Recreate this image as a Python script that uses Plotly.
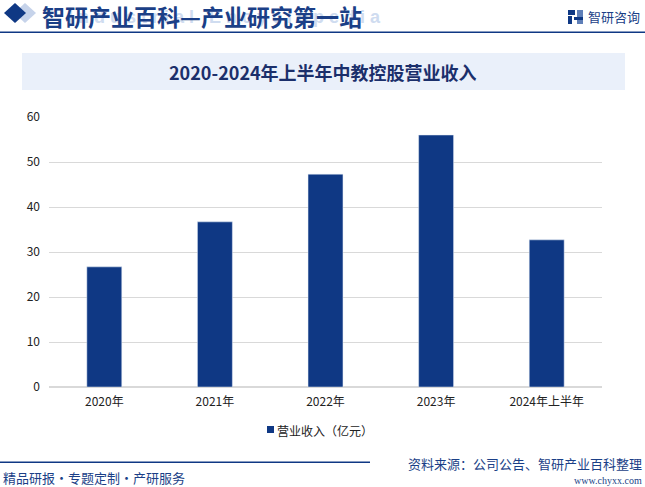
import plotly.graph_objects as go

# Data
categories = ["2020年", "2021年", "2022年", "2023年", "2024年上半年"]
revenue = [26.7, 36.7, 47.3, 56.0, 32.7]
y_ticks = [0, 10, 20, 30, 40, 50, 60]
series_name = "营业收入（亿元）"

NAVY = "#0f3884"
CJK = "Noto Sans CJK SC"

# plot area in pixels
L, R, T, B = 49, 43, 117, 100
PW, PH = 645 - L - R, 487 - T - B


def fx(x):
    return (x - L) / PW


def fy(y):
    return (487 - B - y) / PH


fig = go.Figure()

fig.add_trace(
    go.Bar(
        x=categories,
        y=revenue,
        name=series_name,
        marker_color=NAVY,
        showlegend=False,
    )
)

fig.update_layout(
    width=645,
    height=487,
    margin=dict(l=L, r=R, t=T, b=B),
    paper_bgcolor="white",
    plot_bgcolor="white",
    bargap=0.684,
    font=dict(family=CJK, size=12, color="#333333"),
)

fig.update_xaxes(
    showgrid=False,
    showline=False,
    ticks="",
    ticklabelstandoff=6,
    tickfont=dict(size=12, color="#222222"),
)
fig.update_yaxes(
    range=[0, 60],
    tickvals=y_ticks,
    showgrid=True,
    gridcolor="#d9d9d9",
    gridwidth=1,
    zeroline=True,
    zerolinecolor="#d9d9d9",
    ticks="",
    ticklabelstandoff=8,
    tickfont=dict(size=12, color="#222222"),
)


def px_path(points):
    parts = []
    for i, (x, y) in enumerate(points):
        parts.append(("M " if i == 0 else "L ") + f"{fx(x):.5f} {fy(y):.5f}")
    return " ".join(parts) + " Z"


def px_rect(x0, y0, x1, y1, color):
    return dict(type="rect", xref="paper", yref="paper",
                x0=fx(x0), x1=fx(x1), y0=fy(y0), y1=fy(y1),
                fillcolor=color, line_width=0)


shapes = []
# header diamonds
shapes.append(dict(type="path", xref="paper", yref="paper",
                   path=px_path([(14, 13), (25, 3), (36, 13), (25, 23)]),
                   fillcolor="#c6d3ea", line_width=0))
shapes.append(dict(type="path", xref="paper", yref="paper",
                   path=px_path([(4, 13), (15, 3), (26, 13), (15, 23)]),
                   fillcolor=NAVY, line_width=0))
# header rule
shapes.append(px_rect(0, 31.5, 645, 33, NAVY))
# title box
shapes.append(px_rect(22, 53, 625, 90, "#eaf0fa"))
# logo
shapes.append(px_rect(568, 10, 575, 15, NAVY))
shapes.append(px_rect(568, 16, 572, 24, NAVY))
shapes.append(px_rect(577, 10, 583, 24, "#5f7fb8"))
shapes.append(px_rect(574, 17, 583, 20, NAVY))
# legend swatch
shapes.append(px_rect(267, 426, 274, 433, NAVY))
# footer rule
shapes.append(px_rect(0, 461.5, 370, 463, NAVY))

fig.update_layout(shapes=shapes)


def px_ann(text, x, y, size, color, xanchor="left", bold=False, family=CJK):
    t = f"<b>{text}</b>" if bold else text
    fig.add_annotation(
        xref="paper", yref="paper",
        x=fx(x), y=fy(y),
        text=t, showarrow=False,
        xanchor=xanchor, yanchor="middle",
        borderpad=0,
        font=dict(size=size, color=color, family=family),
    )


# watermark
px_ann("I n d u s t r i a l   E n c y c l o p e d i a", 382, 17, 18, "#cfdcf0", xanchor="right",
       bold=True, family="Arial")
px_ann("智研产业百科—产业研究第一站", 41, 16, 23, "#1b3f87", bold=True)
px_ann("智研咨询", 587, 17, 13, "#1b3f87")
px_ann("2020-2024年上半年中教控股营业收入", 323, 72, 18, "#1b2f6b", xanchor="center", bold=True)
px_ann(series_name, 276, 430, 12, "#222222")
px_ann("精品研报・专题定制・产研服务", 2, 477, 13, "#1b3f87")
px_ann("资料来源：公司公告、智研产业百科整理", 643, 463, 13, "#1b3f87", xanchor="right")
px_ann("www.chyxx.com", 643, 480, 10, "#1b3f87", xanchor="right", family="Liberation Serif")

fig.write_html(
    "out.html",
    config={"displayModeBar": False},
    post_script="document.body.style.margin='0';document.body.style.overflow='hidden';",
)
